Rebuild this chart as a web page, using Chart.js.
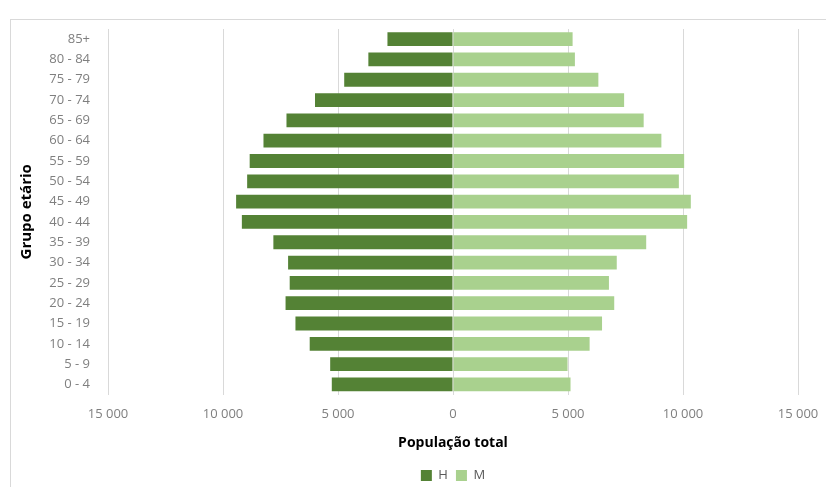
<!DOCTYPE html>
<html>
<head>
<meta charset="utf-8">
<script src="https://cdn.jsdelivr.net/npm/chart.js@4"></script>
<style>
  html, body { margin: 0; padding: 0; background: #fff; overflow: hidden; }
  .frame { position: absolute; left: 10px; top: 19px; width: 900px; height: 520px; border: 1px solid #d9d9d9; }
  .wrap { position: absolute; left: 0; top: 0; width: 826px; height: 487px; overflow: hidden; }
</style>
</head>
<body>
<div class="frame"></div>
<div class="wrap"><canvas id="pyramid" width="826" height="492"></canvas></div>
<script>
// age groups, top to bottom
const ageGroups = ['85+', '80 - 84', '75 - 79', '70 - 74', '65 - 69', '60 - 64', '55 - 59', '50 - 54', '45 - 49',
    '40 - 44', '35 - 39', '30 - 34', '25 - 29', '20 - 24', '15 - 19', '10 - 14', '5 - 9', '0 - 4'];
const homens = [2850, 3680, 4730, 6000, 7240, 8240, 8840, 8950, 9430, 9180, 7810, 7170, 7100, 7280, 6850, 6230, 5340, 5270];
const mulheres = [5200, 5300, 6320, 7440, 8290, 9060, 10050, 9820, 10340, 10180, 8400, 7120, 6780, 7010, 6480, 5940, 4980, 5110];
const xTicks = [-15000, -10000, -5000, 0, 5000, 10000, 15000];

const font = "'Open Sans', 'Liberation Sans', sans-serif";

function fmt(v) {
    return Math.abs(v).toString().replace(/\B(?=(\d{3})+(?!\d))/g, ' ');
}

const ctx = document.getElementById('pyramid').getContext('2d');

new Chart(ctx, {
    type: 'bar',
    data: {
        labels: ageGroups,
        datasets: [{
            label: 'H',
            data: homens.map(v => -v),
            backgroundColor: '#548235',
            barPercentage: 0.68,
            categoryPercentage: 1
        }, {
            label: 'M',
            data: mulheres,
            backgroundColor: '#a9d18e',
            barPercentage: 0.68,
            categoryPercentage: 1
        }]
    },
    options: {
        indexAxis: 'y',
        responsive: false,
        animation: false,
        layout: {
            padding: { top: 29, right: 28, left: 0, bottom: 0 }
        },
        plugins: {
            tooltip: { enabled: false },
            legend: {
                position: 'bottom',
                fullSize: false,
                labels: {
                    boxWidth: 11,
                    boxHeight: 11,
                    padding: 8,
                    color: '#595959',
                    font: { family: font, size: 13 }
                }
            }
        },
        scales: {
            x: {
                stacked: true,
                min: -15000,
                max: 15000,
                afterBuildTicks: function(scale) {
                    scale.ticks = xTicks.map(v => ({ value: v }));
                },
                afterFit: function(scale) {
                    scale.paddingLeft = 0;
                    scale.paddingRight = 0;
                },
                ticks: {
                    padding: 12,
                    color: '#7f7f7f',
                    font: { family: font, size: 13 },
                    maxRotation: 0,
                    callback: v => fmt(v)
                },
                grid: {
                    color: '#d9d9d9',
                    drawTicks: false
                },
                border: { display: false },
                title: {
                    display: true,
                    text: 'População total',
                    color: '#000',
                    font: { family: font, size: 14, weight: 'bold' },
                    padding: { top: 0, bottom: 10 }
                }
            },
            y: {
                stacked: true,
                afterFit: function(scale) {
                    scale.width = 108;
                },
                ticks: {
                    padding: 10,
                    color: '#7f7f7f',
                    font: { family: font, size: 13 }
                },
                grid: { display: false },
                border: { display: false },
                title: {
                    display: true,
                    text: 'Grupo etário',
                    color: '#000',
                    font: { family: font, size: 15, weight: 'bold' },
                    padding: { top: 18, bottom: 0 }
                }
            }
        }
    }
});
</script>
</body>
</html>
